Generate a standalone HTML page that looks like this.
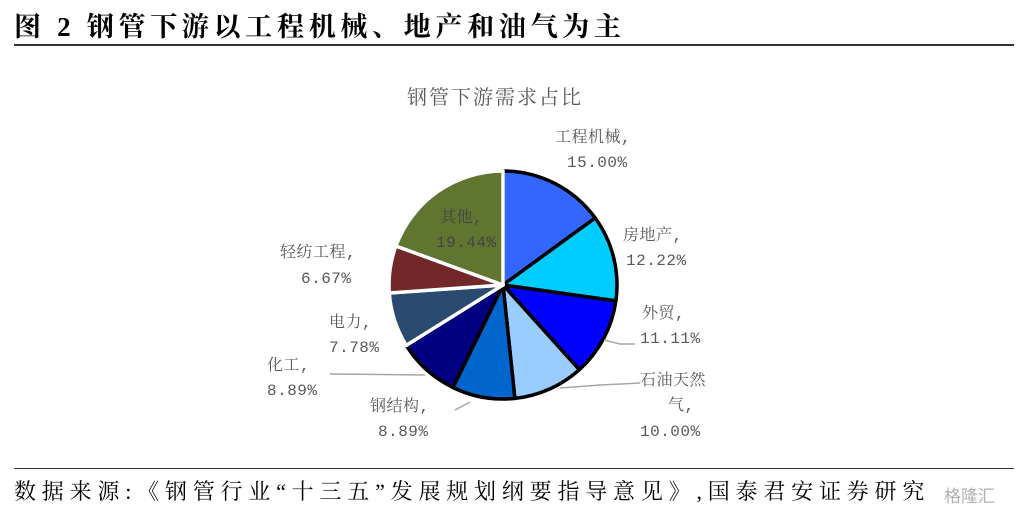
<!DOCTYPE html>
<html><head><meta charset="utf-8"><style>
body{margin:0;background:#fff;width:1019px;height:512px;overflow:hidden;position:relative}
.t{position:absolute;left:14px;top:5px;font:bold 27px "Liberation Serif","Noto Serif CJK SC",serif;color:#000;letter-spacing:4.7px;white-space:nowrap}
.l1{position:absolute;left:14px;top:44px;width:1000px;border-top:2px solid #333}
.l2{position:absolute;left:14px;top:468px;width:1000px;border-top:1px solid #333}
.s{position:absolute;left:14px;top:475px;font:22px "Liberation Serif","Noto Serif CJK SC",serif;color:#000;letter-spacing:5.8px;white-space:nowrap}
.w{position:absolute;left:944px;top:482px;font:17px "Noto Sans CJK SC",sans-serif;color:#b0b0b0}
</style></head><body>
<div class="t">图 2 钢管下游以工程机械、地产和油气为主</div>
<div class="l1"></div>
<svg width="1019" height="512" style="position:absolute;left:0;top:0">
<g font-family="Liberation Mono,Noto Serif CJK SC,serif" font-size="16" fill="#595959" letter-spacing="0.5">
<text x="495" y="104" font-size="20" text-anchor="middle" fill="#595959" font-family="Noto Serif CJK SC,serif" letter-spacing="2">钢管下游需求占比</text>
<g stroke="#000" stroke-width="3.5" stroke-linejoin="round">
<path d="M503,285 L503,171 A114,114 0 0,1 595.2,218 Z" fill="#3366ff"/>
<path d="M503,285 L595.2,218 A114,114 0 0,1 615.9,300.9 Z" fill="#00ccff"/>
<path d="M503,285 L615.9,300.9 A114,114 0 0,1 579.3,369.7 Z" fill="#0000ff"/>
<path d="M503,285 L579.3,369.7 A114,114 0 0,1 514.9,398.4 Z" fill="#99ccff"/>
<path d="M503,285 L514.9,398.4 A114,114 0 0,1 453,387.5 Z" fill="#0066cc"/>
<path d="M503,285 L453,387.5 A114,114 0 0,1 406.3,345.4 Z" fill="#000080"/>
</g>
<g stroke="#fff" stroke-width="3.5" stroke-linejoin="round">
<path d="M503,285 L406.3,345.4 A114,114 0 0,1 389.3,293 Z" fill="#2a4a70"/>
<path d="M503,285 L389.3,293 A114,114 0 0,1 395.9,246 Z" fill="#722828"/>
<path d="M503,285 L395.9,246 A114,114 0 0,1 503,171 Z" fill="#5f7530"/>
</g>
<g stroke="#a6a6a6" stroke-width="1.5" fill="none">
<polyline points="604,340 620,344 635,344"/>
<polyline points="560,388 600,385 640,383"/>
<polyline points="470,402 455,410"/>
<polyline points="425,375 330,374"/>
</g>
<text x="555" y="142">工程机械,</text><text x="567" y="167">15.00%</text>
<text x="623" y="240">房地产,</text><text x="626" y="265">12.22%</text>
<text x="642" y="318">外贸,</text><text x="640" y="343">11.11%</text>
<text x="640" y="385">石油天然</text><text x="668" y="410">气,</text><text x="640" y="436">10.00%</text>
<text x="370" y="411">钢结构,</text><text x="378" y="436">8.89%</text>
<text x="267" y="370">化工,</text><text x="267" y="395">8.89%</text>
<text x="329" y="327">电力,</text><text x="329" y="352">7.78%</text>
<text x="280" y="257">轻纺工程,</text><text x="301" y="283">6.67%</text>
<text x="440" y="222" fill="#444">其他,</text><text x="436" y="247" fill="#444">19.44%</text>
</g>
</svg>
<div class="l2"></div>
<div class="s">数据来源:《钢管行业“十三五”发展规划纲要指导意见》,国泰君安证券研究</div>
<div class="w">格隆汇</div>
</body></html>
